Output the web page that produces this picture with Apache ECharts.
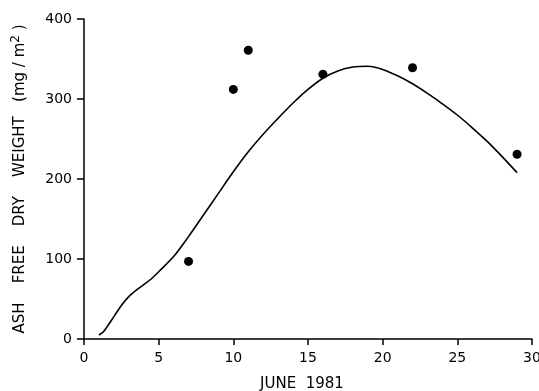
<!DOCTYPE html>
<html>
<head>
<meta charset="utf-8">
<script src="https://cdn.jsdelivr.net/npm/echarts@6/dist/echarts.min.js"></script>
<style>
  html, body { margin: 0; padding: 0; background: #fff; }
  #chart { width: 539px; height: 391px; }
</style>
</head>
<body>
<div id="chart"></div>
<script>
  // measured samples (day of June, mg/m2)
  const sampleDays = [7, 10, 11, 16, 22, 29];
  const sampleWeights = [97, 312, 361, 331, 339, 231];

  // fitted curve
  const curveDays = [1, 1.3, 2, 2.5, 3, 3.5, 4, 4.5, 5, 6, 7, 8, 9, 10, 11, 12, 13, 14, 15, 16, 17, 18, 19, 20, 21, 22, 23, 24, 25, 26, 27, 28, 29];
  const curveWeights = [5, 9, 28, 42, 53, 61, 68, 75, 84, 103, 128, 155, 182, 209, 234, 256, 276, 295, 312, 326, 335, 340, 341, 337, 329, 319, 307, 294, 280, 264, 247, 228, 208];

  const xTicks = [0, 5, 10, 15, 20, 25, 30];
  const yTicks = [0, 100, 200, 300, 400];

  const font = 'DejaVu Sans';
  const myChart = echarts.init(document.getElementById('chart'));

  myChart.setOption({
    animation: false,
    grid: { left: 84, right: 7, top: 19, bottom: 52, outerBoundsMode: 'none', containLabel: false },
    xAxis: {
      type: 'value',
      min: xTicks[0],
      max: xTicks[xTicks.length - 1],
      interval: 5,
      name: 'JUNE  1981',
      nameLocation: 'middle',
      nameGap: 38,
      nameTextStyle: { color: '#000', fontSize: 15, fontFamily: font, padding: [0, 12, 0, 0] },
      axisLine: { lineStyle: { color: '#000', width: 1.5 } },
      axisTick: { inside: false, length: 6, lineStyle: { color: '#000', width: 1.5 } },
      axisLabel: { color: '#000', fontSize: 14, fontFamily: font, margin: 12 },
      splitLine: { show: false }
    },
    yAxis: {
      type: 'value',
      min: yTicks[0],
      max: yTicks[yTicks.length - 1],
      interval: 100,
      name: 'ASH    FREE    DRY    WEIGHT   (mg / m{sup|2} )',
      nameLocation: 'middle',
      nameRotate: 90,
      nameGap: 54,
      nameTextStyle: {
        color: '#000', fontSize: 15, fontFamily: font,
        rich: { sup: { fontSize: 12, fontFamily: font, color: '#000', verticalAlign: 'top', padding: [0, 0, 8, 0] } }
      },
      axisLine: { show: true, lineStyle: { color: '#000', width: 1.5 } },
      axisTick: { show: true, inside: false, length: 7, lineStyle: { color: '#000', width: 1.5 } },
      axisLabel: { color: '#000', fontSize: 14, fontFamily: font, margin: 12 },
      splitLine: { show: false }
    },
    series: [
      {
        type: 'line',
        data: curveDays.map((d, i) => [d, curveWeights[i]]),
        smooth: 0.3,
        showSymbol: false,
        lineStyle: { color: '#000', width: 1.6 }
      },
      {
        type: 'scatter',
        data: sampleDays.map((d, i) => [d, sampleWeights[i]]),
        symbolSize: 9,
        itemStyle: { color: '#000', opacity: 1 }
      }
    ]
  });
</script>
</body>
</html>
